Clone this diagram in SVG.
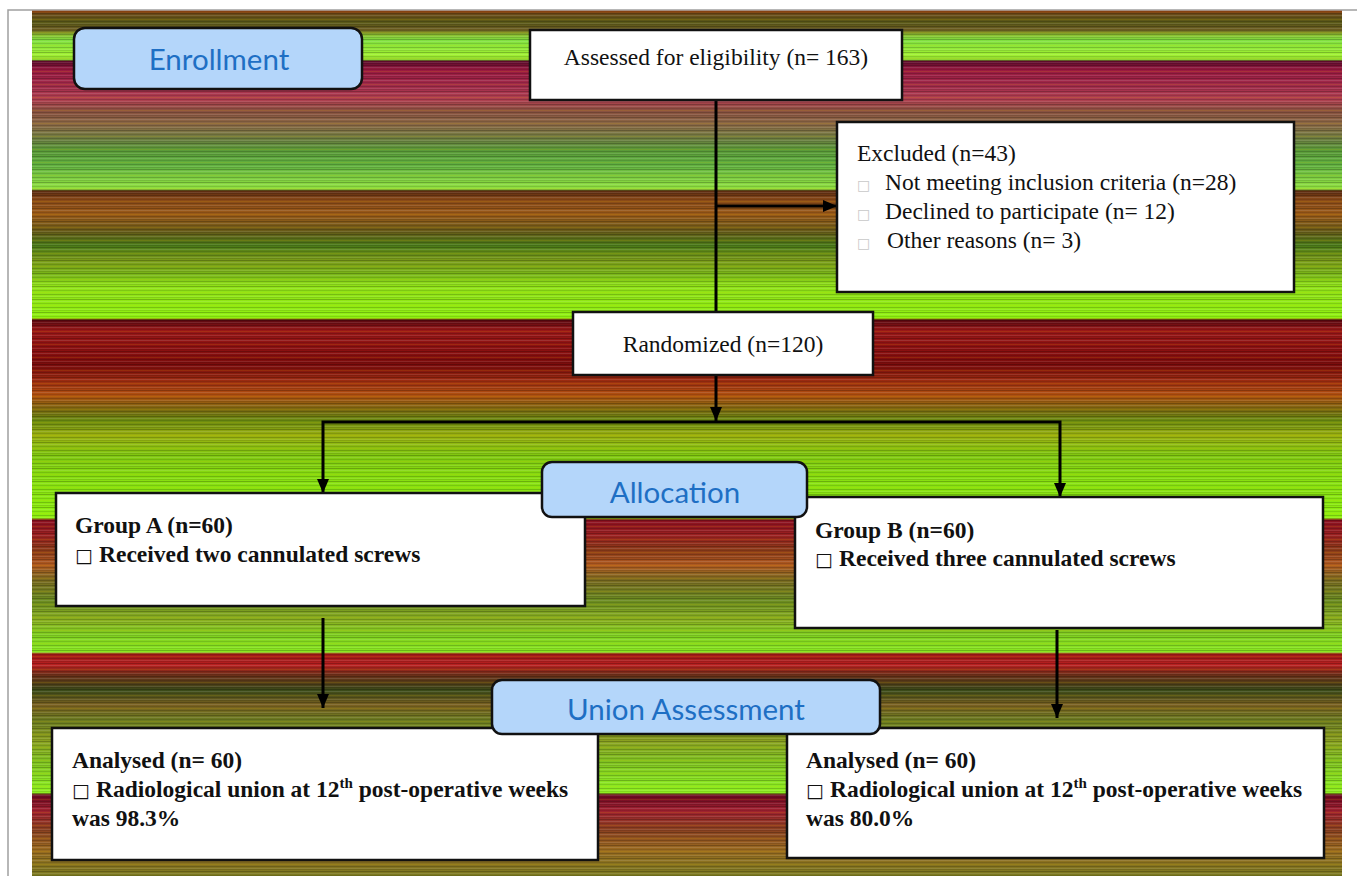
<svg xmlns="http://www.w3.org/2000/svg" width="1357" height="876" viewBox="0 0 1357 876">
<style>
.box{fill:#ffffff;stroke:#111111;stroke-width:2.5}
.hdr{fill:#b4d6fa;stroke:#111111;stroke-width:2.5}
.hdrt{font-family:Lato,"Open Sans",sans-serif;font-size:29.5px;fill:#1e6fc4;text-anchor:middle}
.t{font-family:"Liberation Serif",serif;font-size:23.5px;fill:#111111}
.b{font-family:"Liberation Serif",serif;font-size:23.5px;font-weight:bold;fill:#111111}
.blt{font-family:"DejaVu Sans",sans-serif;font-size:14px;fill:#c8c8c8}
.bltb{font-family:"DejaVu Sans",sans-serif;font-size:19px;fill:#111111;font-weight:normal}
.ln{stroke:#000000;stroke-width:3;fill:none}
</style>
<defs>
<linearGradient id="bg" gradientUnits="userSpaceOnUse" x1="0" y1="0" x2="0" y2="876">
<stop offset="0.0114" stop-color="#b04a10"/>
<stop offset="0.016" stop-color="#6a4a18"/>
<stop offset="0.025" stop-color="#5a5a18"/>
<stop offset="0.034" stop-color="#6a5a20"/>
<stop offset="0.040" stop-color="#8ac030"/>
<stop offset="0.046" stop-color="#80e040"/>
<stop offset="0.063" stop-color="#a0f030"/>
<stop offset="0.0685" stop-color="#8ad030"/>
<stop offset="0.0697" stop-color="#5a0a2a"/>
<stop offset="0.080" stop-color="#9a1a40"/>
<stop offset="0.097" stop-color="#a02a4a"/>
<stop offset="0.114" stop-color="#b04050"/>
<stop offset="0.126" stop-color="#8a5040"/>
<stop offset="0.143" stop-color="#8a6a45"/>
<stop offset="0.160" stop-color="#6a8040"/>
<stop offset="0.171" stop-color="#5a9a38"/>
<stop offset="0.188" stop-color="#60b040"/>
<stop offset="0.205" stop-color="#80d040"/>
<stop offset="0.2157" stop-color="#90e040"/>
<stop offset="0.218" stop-color="#5a2a10"/>
<stop offset="0.228" stop-color="#8a4a18"/>
<stop offset="0.245" stop-color="#9a5a18"/>
<stop offset="0.263" stop-color="#6a5a18"/>
<stop offset="0.280" stop-color="#4a7a18"/>
<stop offset="0.297" stop-color="#7a9a18"/>
<stop offset="0.314" stop-color="#7ab818"/>
<stop offset="0.325" stop-color="#90e018"/>
<stop offset="0.3630" stop-color="#90f010"/>
<stop offset="0.3653" stop-color="#5a0810"/>
<stop offset="0.377" stop-color="#9a1818"/>
<stop offset="0.400" stop-color="#8a1010"/>
<stop offset="0.417" stop-color="#7a0c0c"/>
<stop offset="0.434" stop-color="#9a2a10"/>
<stop offset="0.451" stop-color="#b05010"/>
<stop offset="0.468" stop-color="#7a6a10"/>
<stop offset="0.480" stop-color="#6a8a10"/>
<stop offset="0.497" stop-color="#9ab010"/>
<stop offset="0.520" stop-color="#80c810"/>
<stop offset="0.548" stop-color="#88e010"/>
<stop offset="0.571" stop-color="#8ae810"/>
<stop offset="0.5913" stop-color="#90f010"/>
<stop offset="0.5936" stop-color="#8a1020"/>
<stop offset="0.611" stop-color="#9a2020"/>
<stop offset="0.628" stop-color="#8a3a18"/>
<stop offset="0.645" stop-color="#b05a20"/>
<stop offset="0.662" stop-color="#7a6a20"/>
<stop offset="0.685" stop-color="#6a8a20"/>
<stop offset="0.708" stop-color="#8ab020"/>
<stop offset="0.725" stop-color="#80d020"/>
<stop offset="0.7443" stop-color="#8ae820"/>
<stop offset="0.7466" stop-color="#a01818"/>
<stop offset="0.759" stop-color="#b82020"/>
<stop offset="0.771" stop-color="#6a3018"/>
<stop offset="0.788" stop-color="#3a4a18"/>
<stop offset="0.805" stop-color="#7a6020"/>
<stop offset="0.822" stop-color="#6a7a20"/>
<stop offset="0.845" stop-color="#8aa020"/>
<stop offset="0.868" stop-color="#80c020"/>
<stop offset="0.890" stop-color="#88e020"/>
<stop offset="0.9050" stop-color="#90f020"/>
<stop offset="0.9075" stop-color="#6a0820"/>
<stop offset="0.925" stop-color="#a02030"/>
<stop offset="0.947" stop-color="#8a4020"/>
<stop offset="0.970" stop-color="#9a6a20"/>
<stop offset="1" stop-color="#7a7a20"/>
</linearGradient>
<pattern id="stripes" patternUnits="userSpaceOnUse" x="0" y="0" width="20" height="13">
<rect x="0" y="0" width="20" height="1" fill="#000" fill-opacity="0.22"/>
<rect x="0" y="2" width="20" height="1" fill="#fff" fill-opacity="0.12"/>
<rect x="0" y="4" width="20" height="1" fill="#000" fill-opacity="0.12"/>
<rect x="0" y="6" width="20" height="1" fill="#ffd000" fill-opacity="0.12"/>
<rect x="0" y="8" width="20" height="1" fill="#000" fill-opacity="0.18"/>
<rect x="0" y="10" width="20" height="1" fill="#fff" fill-opacity="0.1"/>
<rect x="0" y="11" width="20" height="1" fill="#000" fill-opacity="0.1"/>
</pattern>
<marker id="ah" viewBox="0 0 14 12" markerUnits="userSpaceOnUse" markerWidth="14" markerHeight="12" refX="14" refY="6" orient="auto">
<path d="M0,0 L14,6 L0,12 z" fill="#000"/>
</marker>
</defs>

<g id="background">
<rect x="0" y="0" width="1357" height="876" fill="#ffffff"/>
<rect x="32" y="10" width="1310" height="866" fill="url(#bg)"/>
<rect x="32" y="10" width="1310" height="866" fill="url(#stripes)"/>
<path d="M8,876 V10 H1357" fill="none" stroke="#a0a0a0" stroke-width="1.5"/>
</g>

<g id="connectors">
<path class="ln" d="M716,100 V312"/>
<path class="ln" d="M716,206 H837" marker-end="url(#ah)"/>
<path class="ln" d="M716,375 V421" marker-end="url(#ah)"/>
<path class="ln" d="M716,422 H323 V493" marker-end="url(#ah)"/>
<path class="ln" d="M716,422 H1060 V497" marker-end="url(#ah)"/>
<path class="ln" d="M323,618 V708" marker-end="url(#ah)"/>
<path class="ln" d="M1057,630 V718" marker-end="url(#ah)"/>
</g>

<g id="enrollment">
<rect class="hdr" x="74" y="28" width="288" height="61" rx="11"/>
<text class="hdrt" x="219" y="70">Enrollment</text>
</g>

<g id="assessed">
<rect class="box" x="530" y="30" width="372" height="70"/>
<text class="t" x="716" y="65" text-anchor="middle">Assessed for eligibility (n= 163)</text>
</g>

<g id="excluded">
<rect class="box" x="837" y="122" width="457" height="170"/>
<text class="t" x="857" y="161">Excluded (n=43)</text>
<text class="blt" x="857" y="190">□</text>
<text class="t" x="885" y="190">Not meeting inclusion criteria (n=28)</text>
<text class="blt" x="857" y="219">□</text>
<text class="t" x="885" y="219">Declined to participate (n= 12)</text>
<text class="blt" x="857" y="248">□</text>
<text class="t" x="887" y="248">Other reasons (n= 3)</text>
</g>

<g id="randomized">
<rect class="box" x="573" y="312" width="300" height="63"/>
<text class="t" x="723" y="352" text-anchor="middle">Randomized (n=120)</text>
</g>

<g id="groupA">
<rect class="box" x="56" y="493" width="529" height="113"/>
<text class="b" x="75" y="533">Group A (n=60)</text>
<text class="bltb" x="75" y="562">□</text>
<text class="b" x="99" y="562">Received two cannulated screws</text>
</g>

<g id="groupB">
<rect class="box" x="795" y="497" width="528" height="131"/>
<text class="b" x="815" y="538">Group B (n=60)</text>
<text class="bltb" x="815" y="566">□</text>
<text class="b" x="839" y="566">Received three cannulated screws</text>
</g>

<g id="allocation">
<rect class="hdr" x="542" y="462" width="265" height="55" rx="10"/>
<text class="hdrt" x="675" y="503">Allocation</text>
</g>

<g id="analysedA">
<rect class="box" x="52" y="728" width="546" height="132"/>
<text class="b" x="72" y="768">Analysed (n= 60)</text>
<text class="bltb" x="72" y="797">□</text>
<text class="b" x="96" y="797">Radiological union at 12<tspan dy="-9" font-size="15">th</tspan><tspan dy="9"> post-operative weeks</tspan></text>
<text class="b" x="72" y="826">was 98.3%</text>
</g>

<g id="analysedB">
<rect class="box" x="787" y="728" width="537" height="130"/>
<text class="b" x="806" y="768">Analysed (n= 60)</text>
<text class="bltb" x="806" y="797">□</text>
<text class="b" x="830" y="797">Radiological union at 12<tspan dy="-9" font-size="15">th</tspan><tspan dy="9"> post-operative weeks</tspan></text>
<text class="b" x="806" y="826">was 80.0%</text>
</g>

<g id="union">
<rect class="hdr" x="492" y="680" width="388" height="54" rx="10"/>
<text class="hdrt" x="686" y="720">Union Assessment</text>
</g>
</svg>
